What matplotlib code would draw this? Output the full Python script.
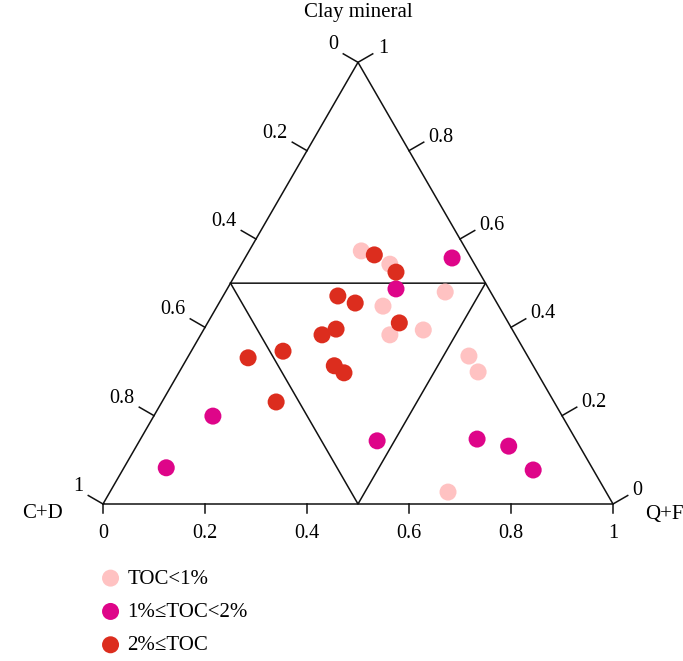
import numpy as np
import matplotlib
matplotlib.use('Agg')
import matplotlib.pyplot as plt

plt.rcParams['font.family'] = ['Liberation Serif', 'DejaVu Serif']

# ternary compositions (fractions): Q+F and clay mineral, C+D = 1 - QF - clay
low_qf = [0.220, 0.291, 0.431, 0.325, 0.431, 0.371, 0.550, 0.586, 0.663]
low_clay = [0.573, 0.543, 0.480, 0.448, 0.394, 0.383, 0.335, 0.299, 0.027]

mid_qf = [0.406, 0.331, 0.116, 0.083, 0.466, 0.660, 0.730, 0.805]
mid_clay = [0.557, 0.487, 0.199, 0.082, 0.143, 0.147, 0.131, 0.077]

high_qf = [0.250, 0.312, 0.225, 0.267, 0.376, 0.259, 0.238, 0.180, 0.119, 0.297, 0.324, 0.224]
high_clay = [0.564, 0.525, 0.471, 0.455, 0.410, 0.396, 0.383, 0.346, 0.331, 0.313, 0.297, 0.231]

labels = ['TOC<1%', '1%≤TOC<2%', '2%≤TOC']
colors = ['#FFC2C2', '#DE0589', '#DC2D1E']
ticks = [0, 0.2, 0.4, 0.6, 0.8, 1]
tick_labels = ['0', '0.2', '0.4', '0.6', '0.8', '1']

H = np.sqrt(3) / 2
P = 1 / 510.0  # one pixel in data units


def to_xy(qf, clay):
    qf = np.asarray(qf)
    clay = np.asarray(clay)
    return qf + clay / 2, clay * H


def pix(px, py):
    return (px - 103) * P, (504 - py) * P


fig = plt.figure(figsize=(6.83, 6.61), dpi=100)
ax = fig.add_axes([0, 0, 1, 1])
ax.set_xlim(-103 * P, 580 * P)
ax.set_ylim(-157 * P, 504 * P)
ax.axis('off')

lc = '#111111'
lw = 1.1
# outer triangle
ax.plot([0, 1, 0.5, 0], [0, 0, H, 0], color=lc, lw=lw)
# inner triangle through edge midpoints
ax.plot([0.25, 0.75, 0.5, 0.25], [H / 2, H / 2, 0, H / 2], color=lc, lw=lw)

fs = 14.5
nl = np.array([-np.sqrt(3) / 2, 0.5])
nr = np.array([np.sqrt(3) / 2, 0.5])
for t, lab in zip(ticks, tick_labels):
    # bottom axis (Q+F)
    ax.plot([t, t], [0, -9 * P], color=lc, lw=lw)
    ax.text(t, -29 * P, lab, ha='center', va='center', fontsize=fs)
    # left axis (C+D), 0 at top
    b = np.array([0.5 * (1 - t), H * (1 - t)])
    e = b + nl * 17 * P
    ax.plot([b[0], e[0]], [b[1], e[1]], color=lc, lw=lw)
    ax.text(e[0] - 5 * P, e[1] + 9 * P, lab, ha='right', va='center', fontsize=fs)
    # right axis (clay), 1 at top
    b = np.array([1 - t / 2, H * t])
    e = b + nr * 17 * P
    ax.plot([b[0], e[0]], [b[1], e[1]], color=lc, lw=lw)
    ax.text(e[0] + 5 * P, e[1] + 5 * P, lab, ha='left', va='center', fontsize=fs)

ax.text(*pix(358, 13), 'Clay mineral', ha='center', va='center', fontsize=15)
ax.text(*pix(42, 514), 'C+D', ha='center', va='center', fontsize=15)
ax.text(*pix(645, 514), 'Q+F', ha='left', va='center', fontsize=15)

groups = [(low_qf, low_clay), (mid_qf, mid_clay), (high_qf, high_clay)]
for (q, c), col, lab in zip(groups, colors, labels):
    x, y = to_xy(q, c)
    ax.scatter(x, y, s=150, color=col, edgecolors='none', label=lab, zorder=3)

fig.legend(loc='upper left', bbox_to_anchor=(97 / 683, 1 - 569 / 661),
           frameon=False, fontsize=15, handletextpad=0.15, handlelength=1.3,
           labelspacing=0.66, borderpad=0, borderaxespad=0)

fig.savefig('out.png', dpi=100)
